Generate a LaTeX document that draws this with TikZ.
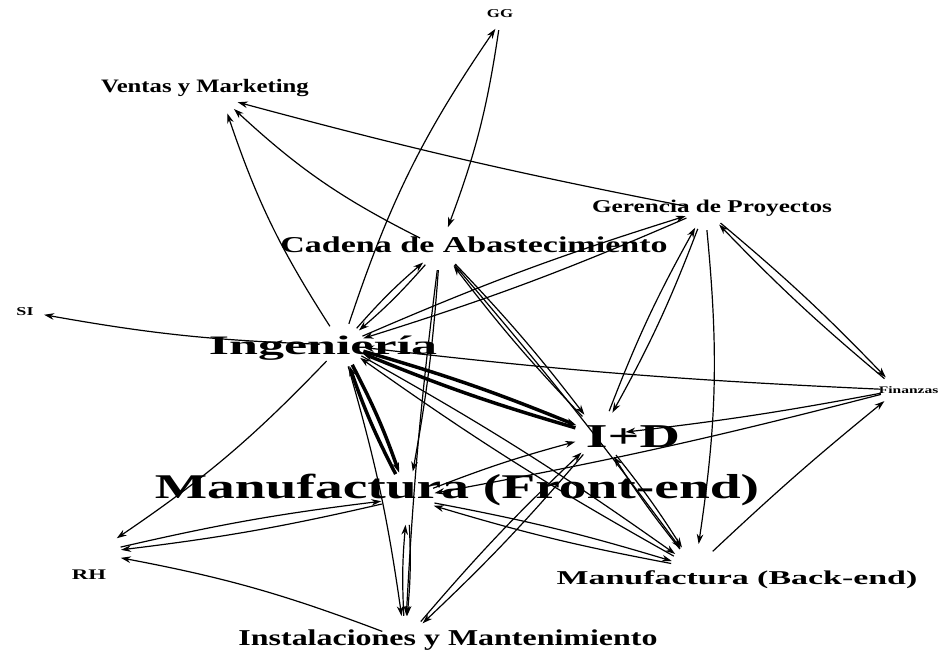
\documentclass[tikz,border=0pt]{standalone}
\usepackage{fontspec}
\setmainfont{Liberation Serif}
\usepackage{graphicx}
\usetikzlibrary{arrows.meta}

\newcommand{\stretchtxt}[2]{\scalebox{#1}[1]{#2}}

\begin{document}
\begin{tikzpicture}[x=0.75pt, y=-0.75pt, >={Stealth[length=7.5pt,width=5pt]},
        vx/.style={circle, inner sep=0pt, minimum size=#1},
        lab/.style={inner sep=0pt, font=\fontsize{#1}{#1}\selectfont\bfseries},
        ed/.style={->, line width=0.9pt},
        hv/.style={->, line width=2.6pt}]
        \useasboundingbox (0,0) rectangle (940,655);

        \node[vx=12pt, label={[lab=9, yshift=6pt]center:\stretchtxt{1.4}{GG}}](gg) at (500,22){};
        \node[vx=24pt, label={[lab=14.25, xshift=-12.75pt, yshift=7.5pt]center:\stretchtxt{1.3}{Ventas y Marketing}}](vm) at (222,98){};
        \node[vx=30pt, label={[lab=13.5, xshift=5.25pt, yshift=1.5pt]center:\stretchtxt{1.4}{Gerencia de Proyectos}}](gp) at (705,210){};
        \node[vx=33pt, label={[lab=17, xshift=25.5pt, yshift=2.25pt]center:\stretchtxt{1.5}{Cadena de Abastecimiento}}](cad) at (440,248){};
        \node[vx=15pt, label={[lab=9, xshift=-6.75pt, yshift=0.75pt]center:\stretchtxt{1.5}{SI}}](si) at (34,313){};
        \node[vx=33pt, label={[lab=20, xshift=-14.25pt, yshift=-2.25pt]center:\stretchtxt{1.95}{Ingeniería}}](ing) at (342,345){};
        \node[vx=26pt, label={[lab=7.5, xshift=8pt]center:\stretchtxt{1.55}{Finanzas}}](fin) at (898,390){};
        \node[vx=38pt, label={[lab=25, xshift=24.75pt, yshift=-1.5pt]center:\stretchtxt{1.68}{I+D}}](idd) at (600,435){};
        \node[vx=40pt, label={[lab=26, xshift=36.75pt, yshift=6pt]center:\stretchtxt{1.6}{Manufactura (Front-end)}}](mfe) at (408,498){};
        \node[vx=39pt, label={[lab=11, xshift=-4.5pt, yshift=-16.5pt]center:\stretchtxt{1.55}{RH}}](rh) at (95,553){};
        \node[vx=36pt, label={[lab=14.7, xshift=31.5pt, yshift=-9pt]center:\stretchtxt{1.73}{Manufactura (Back-end)}}](mbe) at (695,568){};
        \node[vx=36pt, label={[lab=17, xshift=32.25pt]center:\stretchtxt{1.41}{Instalaciones y Mantenimiento}}](ins) at (405,640){};

        \draw[ed] (ing) to[bend left=7] (vm);
        \draw[ed] (cad) to[bend left=8] (vm);
        \draw[ed] (gp) to[bend left=2] (vm);
        \draw[ed] (ing) to[bend left=8] (gg);
        \draw[ed] (gg) to[bend left=6] (cad);
        \draw[ed] (ing) to[bend left=4] (si);
        \draw[ed] (ing) to[bend left=6] (rh);
        \draw[ed] (mfe) to[bend left=3] (rh);
        \draw[ed] (rh) to[bend left=3] (mfe);
        \draw[ed] (ins) to[bend right=5] (rh);
        \draw[ed] (ing) to[bend left=4] (cad);
        \draw[ed] (cad) to[bend left=4] (ing);
        \draw[ed] (ing) to[bend left=3] (gp);
        \draw[ed] (gp) to[bend left=3] (ing);
        \draw[ed] (cad) to[bend left=3] (idd);
        \draw[ed] (idd) to[bend left=3] (cad);
        \draw[ed] (cad) to[bend left=2] (mbe);
        \draw[ed] (cad) to[bend left=3] (mfe);
        \draw[ed] (cad) to[bend right=2] (ins);
        \draw[ed] (ing) to[bend left=4] (ins);
        \draw[ed] (mfe) to[bend left=4] (ins);
        \draw[ed] (ins) to[bend left=4] (mfe);
        \draw[hv] (ing) to[bend left=4] (mfe);
        \draw[hv] (mfe) to[bend left=4] (ing);
        \draw[hv] (ing) to[bend left=3] (idd);
        \draw[hv] (idd) to[bend left=3] (ing);
        \draw[ed] (ing) to[bend left=3] (mbe);
        \draw[ed] (mbe) to[bend left=3] (ing);
        \draw[ed] (fin) to[bend left=2] (ing);
        \draw[ed] (gp) to[bend left=4] (idd);
        \draw[ed] (idd) to[bend left=4] (gp);
        \draw[ed] (gp) to[bend left=7] (mbe);
        \draw[ed] (gp) to[bend left=3] (fin);
        \draw[ed] (fin) to[bend left=3] (gp);
        \draw[ed] (fin) to[bend left=2] (idd);
        \draw[ed] (fin) to[bend left=2] (mfe);
        \draw[ed] (mbe) to[bend left=2] (fin);
        \draw[ed] (idd) to[bend left=3] (mbe);
        \draw[ed] (mbe) to[bend left=3] (idd);
        \draw[ed] (mfe) to[bend left=3] (mbe);
        \draw[ed] (mbe) to[bend left=3] (mfe);
        \draw[ed] (idd) to[bend left=3] (ins);
        \draw[ed] (ins) to[bend left=3] (idd);
        \draw[ed] (mfe) to[bend left=3] (idd);
\end{tikzpicture}
\end{document}
